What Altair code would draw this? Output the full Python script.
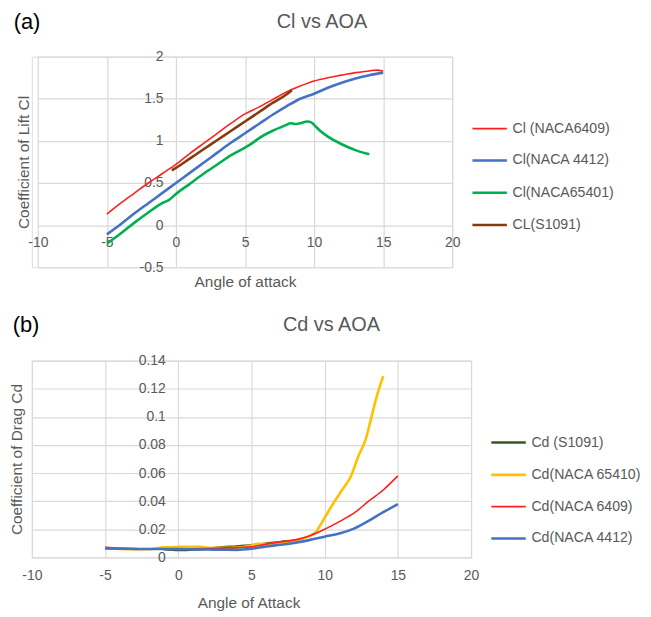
import altair as alt
import pandas as pd

FONT = "Liberation Sans"
GRAY = "#595959"
GRID = "#d9d9d9"

# ---------------- Panel (a): Cl vs AOA ----------------
cl_series = ["Cl (NACA6409)", "Cl(NACA 4412)", "Cl(NACA65401)", "CL(S1091)"]
cl_colors = ["#ff1f1f", "#4472c4", "#00b050", "#843c0c"]
cl_widths = [1.6, 2.6, 2.6, 2.6]

cl_6409_x = [-5, -4, -3, -2, -1, 0, 1, 2, 3, 4, 5, 6, 7, 8, 9, 10, 11, 12, 13, 14, 14.5, 15]
cl_6409_y = [0.13, 0.26, 0.38, 0.50, 0.61, 0.72, 0.85, 0.97, 1.09, 1.21, 1.32, 1.40, 1.49, 1.58,
             1.65, 1.71, 1.75, 1.78, 1.81, 1.83, 1.84, 1.83]

cl_4412_x = [-5, -4, -3, -2, -1, 0, 1, 2, 3, 4, 5, 6, 7, 8, 9, 10, 11, 12, 13, 14, 15]
cl_4412_y = [-0.11, 0.01, 0.14, 0.26, 0.38, 0.50, 0.62, 0.74, 0.86, 0.98, 1.09, 1.20, 1.31, 1.41,
             1.50, 1.56, 1.63, 1.69, 1.74, 1.78, 1.81]

cl_65401_x = [-5, -4, -3, -2, -1, -0.5, 0, 1, 2, 3, 4, 5, 5.5, 6, 7, 8, 8.3, 8.6, 9, 9.5, 9.8,
              10, 10.5, 11, 12, 13, 14]
cl_65401_y = [-0.22, -0.10, 0.03, 0.15, 0.26, 0.30, 0.37, 0.49, 0.61, 0.72, 0.83, 0.92, 0.97, 1.03,
              1.12, 1.19, 1.21, 1.20, 1.21, 1.23, 1.22, 1.19, 1.11, 1.05, 0.96, 0.89, 0.84]

cl_s1091_x = [-0.3, 0, 1, 2, 3, 4, 5, 6, 7, 8, 8.4]
cl_s1091_y = [0.65, 0.68, 0.79, 0.90, 1.01, 1.12, 1.23, 1.34, 1.45, 1.55, 1.60]

cl_x_ticks = [-10, -5, 0, 5, 10, 15, 20]
cl_y_ticks = [-0.5, 0, 0.5, 1, 1.5, 2]

# ---------------- Panel (b): Cd vs AOA ----------------
cd_series = ["Cd (S1091)", "Cd(NACA 65410)", "Cd(NACA 6409)", "Cd(NACA 4412)"]
cd_colors = ["#375623", "#ffc000", "#ff1f1f", "#4472c4"]
cd_widths = [2.6, 2.6, 1.6, 2.6]

cd_s1091_x = [-1, 0, 1, 2, 3, 4, 5, 6, 7, 8]
cd_s1091_y = [0.0058, 0.0053, 0.0057, 0.0063, 0.0072, 0.0078, 0.0086, 0.0098, 0.0110, 0.0120]

cd_65410_x = [-5, -4, -3, -2, -1, 0, 1, 1.5, 2, 3, 4, 5, 5.5, 6, 7, 8, 8.5, 9, 9.4, 9.7, 10.1,
              10.5, 11.1, 11.8, 12.3, 12.8, 13.2, 13.5, 14]
cd_65410_y = [0.0065, 0.0060, 0.0058, 0.0058, 0.0072, 0.0075, 0.0076, 0.0075, 0.0068, 0.0068,
              0.0070, 0.0085, 0.0098, 0.0095, 0.0105, 0.0120, 0.0135, 0.0155, 0.0180, 0.0230,
              0.0300, 0.0370, 0.0466, 0.0580, 0.0720, 0.0840, 0.1000, 0.1125, 0.1290]

cd_6409_x = [-5, -4, -3, -2, -1, 0, 1, 2, 3, 4, 5, 6, 7, 8, 9, 10, 11, 12, 13, 14, 15]
cd_6409_y = [0.0073, 0.0066, 0.0062, 0.0060, 0.0060, 0.0060, 0.0061, 0.0063, 0.0066, 0.0070,
             0.0075, 0.0095, 0.0110, 0.0125, 0.0155, 0.0200, 0.0255, 0.0315, 0.0400, 0.0480, 0.0580]

cd_4412_x = [-5, -4, -3, -2, -1, 0, 1, 2, 3, 4, 5, 6, 7, 8, 9, 10, 11, 12, 13, 14, 15]
cd_4412_y = [0.0064, 0.0062, 0.0061, 0.0060, 0.0060, 0.0059, 0.0058, 0.0056, 0.0055, 0.0054,
             0.0062, 0.0078, 0.0090, 0.0105, 0.0125, 0.0148, 0.0170, 0.0205, 0.0260, 0.0322, 0.0380]

cd_x_ticks = [-10, -5, 0, 5, 10, 15, 20]
cd_y_ticks = [0, 0.02, 0.04, 0.06, 0.08, 0.1, 0.12, 0.14]


def frame(names, xs_list, ys_list):
    rows = []
    for n, xs, ys in zip(names, xs_list, ys_list):
        for xv, yv in zip(xs, ys):
            rows.append({"series": n, "aoa": xv, "coef": yv})
    return pd.DataFrame(rows)


def panel(df, names, colors, widths, xdom, ydom, xticks, yticks, W, H, xr0, xtitle, ytitle,
          title, tag, leg_x, leg_y, ytitle_x, xtitle_x, xtitle_y, tag_x, tag_y,
          title_x, title_y, left_edge):
    # x range starts at xr0 inside the view; zero lines give Excel-style crossing axes
    x0 = xr0 + (0 - xdom[0]) / (xdom[1] - xdom[0]) * (W - xr0)
    y0 = (ydom[1] - 0) / (ydom[1] - ydom[0]) * H
    lbl = "'' + datum.value"
    xaxis = alt.Axis(values=xticks, offset=-(H - y0), grid=True, gridColor=GRID, gridWidth=1.2,
                     domain=False, ticks=False, labelPadding=11, labelColor=GRAY,
                     labelFontSize=14, labelFont=FONT, labelFlush=False, labelExpr=lbl,
                     title=xtitle, titleX=xtitle_x, titleY=xtitle_y, titleAlign="center",
                     titleBaseline="middle", titleColor=GRAY, titleFontSize=15.5,
                     titleFont=FONT, titleFontWeight="normal")
    yaxis = alt.Axis(values=yticks, offset=-x0, grid=True, gridColor=GRID, gridWidth=1.2,
                     domain=False, ticks=False, labelPadding=13, labelColor=GRAY,
                     labelFontSize=14, labelFont=FONT, labelFlush=False, labelExpr=lbl,
                     title=ytitle, titleX=ytitle_x, titleY=H / 2, titleAngle=-90,
                     titleAlign="center", titleBaseline="middle", titleColor=GRAY,
                     titleFontSize=15.5, titleFont=FONT, titleFontWeight="normal")
    xs = alt.Scale(domain=xdom, nice=False, zero=False, range=[xr0, W])
    ys = alt.Scale(domain=ydom, nice=False, zero=False)
    cscale = alt.Scale(domain=names, range=colors)
    wscale = alt.Scale(type="ordinal", domain=names, range=widths)
    leg = alt.Legend(title=None, orient="none", legendX=leg_x, legendY=leg_y,
                     symbolType="stroke", symbolSize=1200, symbolStrokeWidth=2.6,
                     labelFontSize=14.2, labelFont=FONT, labelColor=GRAY, labelOffset=4,
                     rowPadding=5.5, padding=0, labelLimit=300)
    layers = []
    for n in names:
        layers.append(
            alt.Chart(df).transform_filter(alt.datum.series == n)
            .mark_line(interpolate="monotone")
            .encode(
                x=alt.X("aoa:Q", scale=xs, axis=xaxis),
                y=alt.Y("coef:Q", scale=ys, axis=yaxis),
                color=alt.Color("series:N", scale=cscale, legend=leg),
                strokeWidth=alt.StrokeWidth("series:N", scale=wscale, legend=leg),
            )
        )
    tag_layer = alt.Chart(pd.DataFrame({"t": [tag]})).mark_text(
        align="left", baseline="middle", fontSize=22, font=FONT, color="#000000"
    ).encode(text="t:N", x=alt.value(tag_x), y=alt.value(tag_y))
    title_layer = alt.Chart(pd.DataFrame({"t": [title]})).mark_text(
        align="center", baseline="middle", fontSize=20, font=FONT, color=GRAY
    ).encode(text="t:N", x=alt.value(title_x), y=alt.value(title_y))
    # invisible spacer fixing where the panel's left bound sits
    spacer = alt.Chart(pd.DataFrame({"t": [0]})).mark_rule(strokeOpacity=0).encode(
        x=alt.value(left_edge), x2=alt.value(left_edge), y=alt.value(0), y2=alt.value(1))
    layers += [tag_layer, title_layer, spacer]
    return alt.layer(*layers).properties(width=W, height=H)


df_a = frame(cl_series, [cl_6409_x, cl_4412_x, cl_65401_x, cl_s1091_x],
             [cl_6409_y, cl_4412_y, cl_65401_y, cl_s1091_y])
df_b = frame(cd_series, [cd_s1091_x, cd_65410_x, cd_6409_x, cd_4412_x],
             [cd_s1091_y, cd_65410_y, cd_6409_y, cd_4412_y])

pa = panel(df_a, cl_series, cl_colors, cl_widths, [-10, 20], [-0.5, 2], cl_x_ticks, cl_y_ticks,
           423, 212, 6, "Angle of attack", "Coefficient of Lift Cl", "Cl vs AOA", "(a)",
           441.7, 54, -153, 214.5, 57, -18.3, -35, 292, -35, -23)
pb = panel(df_b, cd_series, cd_colors, cd_widths, [-10, 20], [0, 0.14], cd_x_ticks, cd_y_ticks,
           442, 198, 0, "Angle of Attack", "Coefficient of Drag Cd", "Cd vs AOA", "(b)",
           460.7, 63.4, -162.4, 218, 45, -19.3, -36, 301.5, -36, -23)

chart = alt.concat(pa, pb, columns=1, align="none", spacing=22).resolve_scale(
    color="independent", strokeWidth="independent", x="independent", y="independent"
).properties(
    padding={"left": 0, "top": 0, "right": 0, "bottom": 0}
).configure_view(stroke=None).configure(background="#ffffff")

chart.save("out.html", embed_options={"renderer": "svg", "actions": False})
